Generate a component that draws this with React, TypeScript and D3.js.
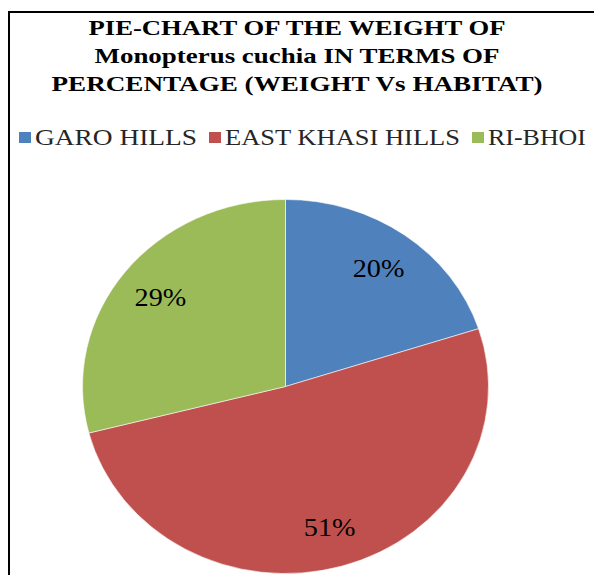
import React from "react";
import { pie, arc, PieArcDatum } from "d3";

const regions = ["GARO HILLS", "EAST KHASI HILLS", "RI-BHOI"];
const weightPct = [20, 51, 29];
const colors = ["#4F81BD", "#C0504D", "#9BBB59"];
const titleLines = [
  "PIE-CHART OF THE WEIGHT OF",
  "Monopterus cuchia IN TERMS OF",
  "PERCENTAGE (WEIGHT Vs HABITAT)",
];

// layout
const W = 594;
const H = 575;
const cx = 285.5;
const cy = 386.5;
const rx = 203;
const ry = 187;
const stretch = rx / ry;
const titleWidths = [417, 405, 491];
const legendWidths = [162, 235, 98];
const serif = `"Liberation Serif"`;

export default function App() {
  const slices = pie<number>().sort(null).value((d) => d)(weightPct);
  const sliceArc = arc<PieArcDatum<number>>().innerRadius(0).outerRadius(rx);
  const labelArc = arc<PieArcDatum<number>>()
    .innerRadius(rx * 0.78)
    .outerRadius(rx * 0.78);

  // legend runs left to right, square + text
  let lx = 19;
  const legend = regions.map((name, i) => {
    const item = { name, x: lx, color: colors[i], w: legendWidths[i] };
    lx += 12 + 4 + legendWidths[i] + 12;
    return item;
  });

  return (
    <svg width={W} height={H} style={{ position: "absolute", left: 0, top: 0, background: "#fff" }}>
      <rect x={9} y={12} width={W + 20} height={H + 20} fill="#fff" stroke="#000" strokeWidth={2} />

      {titleLines.map((t, i) => (
        <text
          key={t}
          x={297}
          y={35 + i * 28}
          textAnchor="middle"
          fontWeight="bold"
          fontSize={22}
          fill="#000"
          style={{ fontFamily: serif }}
          textLength={titleWidths[i]}
          lengthAdjust="spacingAndGlyphs"
        >
          {t}
        </text>
      ))}

      {legend.map((d) => (
        <g key={d.name}>
          <rect x={d.x} y={132} width={12} height={11} fill={d.color} />
          <text
            x={d.x + 16}
            y={145}
            fontSize={23}
            fill="#262626"
            style={{ fontFamily: serif }}
            textLength={d.w}
            lengthAdjust="spacingAndGlyphs"
          >
            {d.name}
          </text>
        </g>
      ))}

      <g transform={`translate(${cx},${cy}) scale(1,${ry / rx})`}>
        {slices.map((s, i) => (
          <path key={i} d={sliceArc(s) || ""} fill={colors[i]} stroke="#fff" strokeWidth={0.6} />
        ))}
      </g>

      {slices.map((s, i) => {
        const [x, y] = labelArc.centroid(s);
        return (
          <text
            key={"l" + i}
            transform={`translate(${cx + x},${cy + (y * ry) / rx + 9}) scale(${stretch},1)`}
            textAnchor="middle"
            fontSize={26}
            fill="#000"
            style={{ fontFamily: serif }}
          >
            {weightPct[i]}%
          </text>
        );
      })}
    </svg>
  );
}
